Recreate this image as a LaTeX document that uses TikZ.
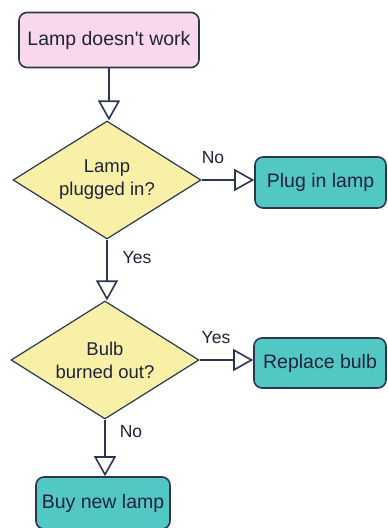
\documentclass[tikz,border=0pt]{standalone}
\usepackage{fontspec}
\setmainfont{Liberation Sans}
\usetikzlibrary{shapes.geometric,arrows.meta}
\definecolor{pinkfill}{HTML}{FAD8EC}
\definecolor{yelfill}{HTML}{F8F0A6}
\definecolor{tealfill}{HTML}{52C8C4}
\definecolor{edgec}{HTML}{2E3550}
\definecolor{textc}{HTML}{22223A}
\tikzset{
  box/.style={draw=edgec, line width=1.6pt, rounded corners=8pt, inner sep=0pt, font=\fontsize{19.5}{22}\selectfont, text=textc},
  decide/.style={draw=edgec, line width=1.2pt, diamond, shape aspect=1.58, fill=yelfill, inner sep=0pt, minimum width=188pt, minimum height=118pt, align=center, font=\fontsize{18.5}{23}\selectfont, text=textc},
  conn/.style={draw=edgec, line width=2pt, -{Triangle[open,length=20pt,width=22pt,line width=1.6pt,fill=white]}},
  lbl/.style={font=\fontsize{17.5}{20}\selectfont, text=textc, inner sep=0pt}
}
\begin{document}
\begin{tikzpicture}[x=1pt,y=-1pt]
\useasboundingbox (0,0) rectangle (388,528);
\clip (0,0) rectangle (388,528);
\fill[white] (0,0) rectangle (388,528);
\node[box, fill=pinkfill, minimum width=180pt, minimum height=55pt] (start) at (109,40) {Lamp doesn\textquotesingle t work};
\node[decide] (d1) at (107,180) {Lamp\\plugged in?};
\node[box, fill=tealfill, minimum width=131pt, minimum height=51pt] (plug) at (320.5,182.5) {Plug in lamp};
\node[decide] (d2) at (105,360) {Bulb\\burned out?};
\node[box, fill=tealfill, minimum width=132pt, minimum height=50pt] (repl) at (320,363) {Replace bulb};
\node[box, fill=tealfill, minimum width=134pt, minimum height=52pt] (buy) at (103,503) {Buy new lamp};
\draw[conn] (start.south) -- (start.south |- d1.north);
\draw[conn] (d1.east) -- (d1.east -| plug.west);
\draw[conn] (d1.south) -- (d1.south |- d2.north);
\draw[conn] (d2.east) -- (d2.east -| repl.west);
\draw[conn] (d2.south) -- (d2.south |- buy.north);
\node[lbl] (lno1) at (213,158) {No};
\node[lbl] (lyes1) at (137,258) {Yes};
\node[lbl] (lyes2) at (216,338) {Yes};
\node[lbl] (lno2) at (131,432) {No};
\end{tikzpicture}
\end{document}
